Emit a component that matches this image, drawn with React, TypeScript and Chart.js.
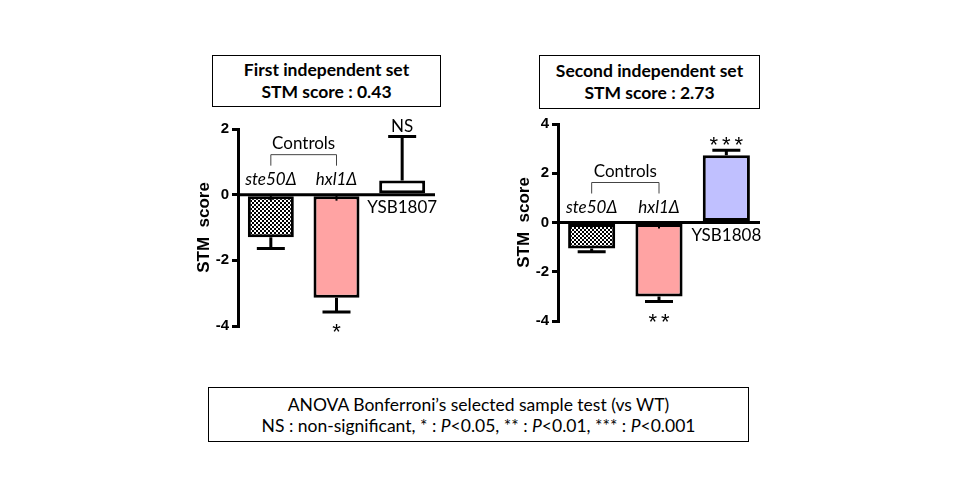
import { useEffect, useRef } from 'react';
import { Chart, registerables } from 'chart.js';

Chart.register(...registerables);

// first independent set
const set1Labels = ['ste50Δ', 'hxl1Δ', 'YSB1807'];
const set1Values = [-1.3, -3.14, 0.43];
const set1Errors = [0.34, 0.43, 1.34];
const set1Marks = ['', '*', 'NS'];
const set1Ticks = [-4, -2, 0, 2];

// second independent set
const set2Labels = ['ste50Δ', 'hxl1Δ', 'YSB1808'];
const set2Values = [-1.06, -3.0, 2.73];
const set2Errors = [0.13, 0.21, 0.2];
const set2Marks = ['', '**', '***'];
const set2Ticks = [-4, -2, 0, 2, 4];

const controlCount = 2;
const FONT = 'Lato, "Open Sans", sans-serif';

function checkerPattern(): CanvasPattern | string {
  const c = document.createElement('canvas');
  c.width = 4;
  c.height = 4;
  const g = c.getContext('2d');
  if (!g) return '#888';
  g.fillStyle = '#fff';
  g.fillRect(0, 0, 4, 4);
  g.fillStyle = '#000';
  g.fillRect(0, 0, 2, 2);
  g.fillRect(2, 2, 2, 2);
  return g.createPattern(c, 'repeat') || '#888';
}

const annotPlugin = {
  id: 'annot',
  afterDatasetsDraw(chart: any, _args: any, opts: any) {
    const { ctx, chartArea } = chart;
    const y = chart.scales.y;
    const meta = chart.getDatasetMeta(0);
    const values: number[] = chart.data.datasets[0].data;
    const y0 = y.getPixelForValue(0);
    ctx.save();
    ctx.strokeStyle = '#000';
    ctx.fillStyle = '#000';

    // zero line
    ctx.lineWidth = 3;
    ctx.beginPath();
    ctx.moveTo(chartArea.left, y0);
    ctx.lineTo(chartArea.right, y0);
    ctx.stroke();

    meta.data.forEach((bar: any, i: number) => {
      const v = values[i];
      const sign = v < 0 ? -1 : 1;
      const yEnd = y.getPixelForValue(v + sign * opts.errors[i]);
      // error bar
      ctx.lineWidth = 3;
      ctx.beginPath();
      ctx.moveTo(bar.x, bar.y);
      ctx.lineTo(bar.x, yEnd);
      ctx.moveTo(bar.x - 14, yEnd);
      ctx.lineTo(bar.x + 14, yEnd);
      ctx.stroke();
      if (v < 0) {
        ctx.lineWidth = 2;
        ctx.beginPath();
        ctx.moveTo(bar.x, y0);
        ctx.lineTo(bar.x, y0 + 6);
        ctx.stroke();
      }
      // category label
      ctx.textAlign = 'center';
      ctx.textBaseline = 'middle';
      ctx.font = (i < controlCount ? 'italic ' : '') + '17px ' + FONT;
      ctx.fillText(chart.data.labels[i], bar.x, v < 0 ? y0 - 15 : y0 + 13);
      // significance mark
      const mark: string = opts.marks[i];
      if (!mark) return;
      if (mark.startsWith('*')) {
        const cy = v < 0 ? yEnd + 14 : yEnd - 11;
        ctx.font = '22px Arial';
        ctx.textBaseline = 'alphabetic';
        const n = mark.length;
        for (let k = 0; k < n; k++) {
          ctx.fillText('*', bar.x + (k - (n - 1) / 2) * 12.5, cy + 13);
        }
      } else {
        ctx.font = '17px ' + FONT;
        ctx.fillText(mark, bar.x, yEnd - 10);
      }
    });

    // Controls bracket
    const a = meta.data[0].x;
    const b = meta.data[1].x;
    ctx.lineWidth = 1;
    ctx.strokeStyle = '#444';
    ctx.beginPath();
    ctx.moveTo(a, y0 - 29);
    ctx.lineTo(a, y0 - 40);
    ctx.lineTo(b, y0 - 40);
    ctx.lineTo(b, y0 - 29);
    ctx.stroke();
    ctx.textBaseline = 'middle';
    ctx.font = '17px ' + FONT;
    ctx.fillText('Controls', (a + b) / 2, y0 - 51);
    ctx.restore();
  },
};

interface SetChartProps {
  labels: string[];
  values: number[];
  errors: number[];
  marks: string[];
  ticks: number[];
  lastColor: string;
  width: number;
  height: number;
  padding: { top: number; bottom: number; right: number };
}

function SetChart(props: SetChartProps) {
  const canvasRef = useRef<HTMLCanvasElement>(null);
  const chartRef = useRef<Chart | null>(null);

  useEffect(() => {
    if (!canvasRef.current) return;
    if (chartRef.current) chartRef.current.destroy();
    const { labels, values, errors, marks, ticks, lastColor, padding } = props;
    const colors = [checkerPattern(), '#ffa3a3', lastColor];

    chartRef.current = new Chart(canvasRef.current, {
      type: 'bar',
      data: {
        labels,
        datasets: [
          {
            data: values,
            backgroundColor: colors as any,
            borderColor: '#000',
            borderWidth: 3,
            borderSkipped: false,
            categoryPercentage: 1,
            barPercentage: 0.7,
          },
        ],
      },
      options: {
        responsive: false,
        animation: false,
        layout: { padding: { left: 0, top: padding.top, bottom: padding.bottom, right: padding.right } },
        plugins: {
          legend: { display: false },
          tooltip: { enabled: false },
          annot: { errors, marks },
        } as any,
        scales: {
          x: { display: false },
          y: {
            min: ticks[0],
            max: ticks[ticks.length - 1],
            afterFit: (scale: any) => {
              scale.width = 58;
            },
            afterBuildTicks: (scale: any) => {
              scale.ticks = ticks.map(v => ({ value: v }));
            },
            border: { display: true, width: 3, color: '#000' },
            grid: { drawOnChartArea: false, tickLength: 6, lineWidth: 3, color: '#000' },
            ticks: {
              color: '#000',
              padding: 3,
              font: { family: 'Arial', size: 15, weight: 'bold' },
            },
            title: {
              display: true,
              text: 'STM  score',
              color: '#000',
              padding: { top: 14, bottom: 0 },
              font: { family: 'Arial', size: 17, weight: 'bold' },
            },
          },
        },
      },
      plugins: [annotPlugin],
    });

    return () => {
      if (chartRef.current) {
        chartRef.current.destroy();
        chartRef.current = null;
      }
    };
  }, [props]);

  return <canvas ref={canvasRef} width={props.width} height={props.height}></canvas>;
}

const boxStyle: React.CSSProperties = {
  position: 'absolute',
  border: '1px solid #000',
  boxSizing: 'border-box',
  display: 'flex',
  flexDirection: 'column',
  justifyContent: 'center',
  alignItems: 'center',
  color: '#000',
};

const set1Props: SetChartProps = {
  labels: set1Labels,
  values: set1Values,
  errors: set1Errors,
  marks: set1Marks,
  ticks: set1Ticks,
  lastColor: '#ffffff',
  width: 270,
  height: 230,
  padding: { top: 19, bottom: 14, right: 15 },
};

const set2Props: SetChartProps = {
  labels: set2Labels,
  values: set2Values,
  errors: set2Errors,
  marks: set2Marks,
  ticks: set2Ticks,
  lastColor: '#c0c0ff',
  width: 275,
  height: 235,
  padding: { top: 19, bottom: 19, right: 15 },
};

export default function App() {
  return (
    <div
      style={{
        position: 'fixed',
        left: 0,
        top: 0,
        width: 960,
        height: 500,
        background: '#fff',
        fontFamily: FONT,
        overflow: 'hidden',
      }}
    >
      <div style={{ ...boxStyle, left: 212, top: 55, width: 229, height: 52, fontWeight: 'bold', fontSize: 17.5, lineHeight: '22px' }}>
        <div>First independent set</div>
        <div>STM score : 0.43</div>
      </div>
      <div style={{ ...boxStyle, left: 539, top: 55, width: 221, height: 54, fontWeight: 'bold', fontSize: 17.5, lineHeight: '22px' }}>
        <div>Second independent set</div>
        <div>STM score : 2.73</div>
      </div>
      <div style={{ position: 'absolute', left: 180, top: 110 }}>
        <SetChart {...set1Props} />
      </div>
      <div style={{ position: 'absolute', left: 500, top: 105 }}>
        <SetChart {...set2Props} />
      </div>
      <div style={{ ...boxStyle, left: 208, top: 387, width: 541, height: 55, fontSize: 17.5, lineHeight: '21px' }}>
        <div>ANOVA Bonferroni’s selected sample test (vs WT)</div>
        <div>
          NS : non-significant, * : <i>P</i>&lt;0.05, ** : <i>P</i>&lt;0.01, *** : <i>P</i>&lt;0.001
        </div>
      </div>
    </div>
  );
}
